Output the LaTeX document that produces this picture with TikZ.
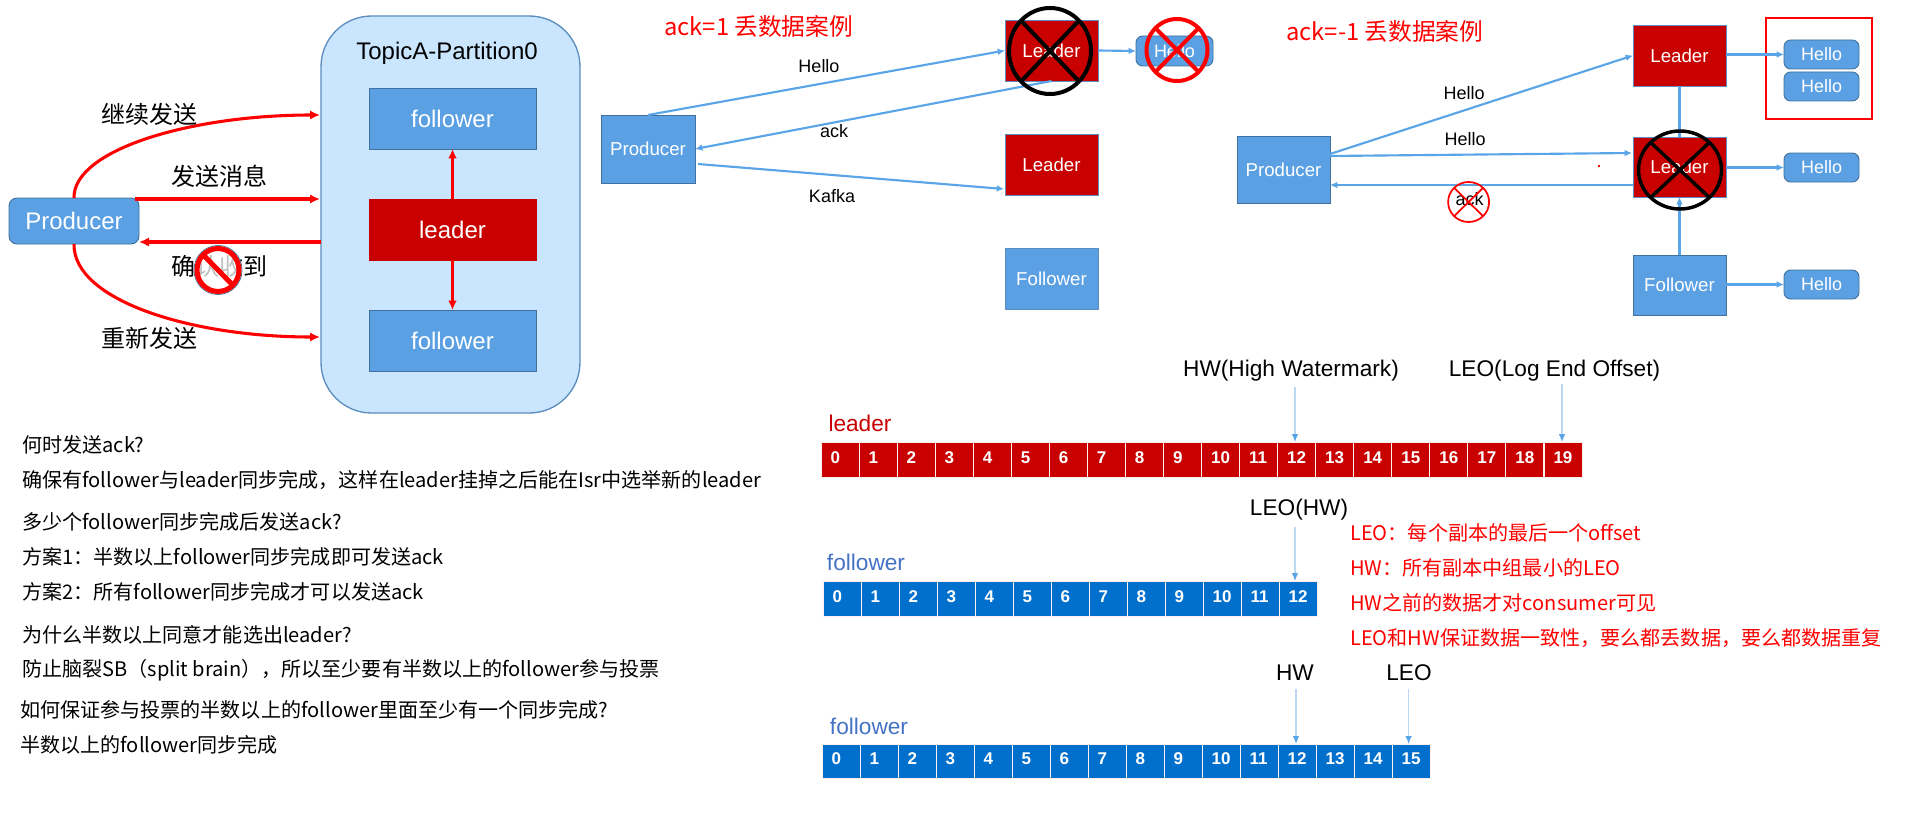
\documentclass[tikz,border=0pt]{standalone}
\usepackage{fontspec}
\setmainfont{Liberation Sans}
\newfontfamily\cjk{Noto Sans CJK SC}
\usetikzlibrary{arrows.meta,shapes.geometric}
\definecolor{nodeblue}{HTML}{5AA0E3}
\definecolor{edgeblue}{HTML}{41719C}
\definecolor{kred}{HTML}{C80000}
\definecolor{bigfill}{HTML}{C9E6FE}
\definecolor{bigedge}{HTML}{5B8DC0}
\definecolor{rowblue}{HTML}{0070CC}
\definecolor{lineblue}{HTML}{5AA5E8}
\definecolor{paleblue}{HTML}{BBD8F3}
\definecolor{labblue}{HTML}{4472C4}
\definecolor{pure}{HTML}{FF0000}
\tikzset{
  x=0.75pt,y=-0.75pt,
  sz/.style 2 args={minimum width=#1*0.75pt,minimum height=#2*0.75pt,inner sep=0pt,outer sep=0pt},
  bluebox/.style={draw=edgeblue,line width=0.7pt,fill=nodeblue,text=white,font=\fontsize{14pt}{16pt}\selectfont},
  redbox/.style={draw=bigedge,line width=0.7pt,fill=kred,text=white,font=\fontsize{14pt}{16pt}\selectfont},
  panelbox/.style={font=\fontsize{18pt}{21pt}\selectfont},
  hellobox/.style={bluebox,rounded corners=5pt,font=\fontsize{13.5pt}{16pt}\selectfont},
  bigarrow/.style={draw=pure,line width=2.3pt,-{Latex[length=7.5pt,width=7pt]}},
  thinred/.style={draw=pure,line width=1.6pt,-{Latex[length=7pt,width=6.5pt]}},
  bluearrow/.style={draw=lineblue,line width=1.6pt,-{Latex[length=5.5pt,width=5pt]}},
  pale/.style={draw=paleblue,line width=0.9pt,-{Latex[length=6pt,width=5pt,color=lineblue]}},
  blacktext/.style={text=black,inner sep=0pt,font=\fontsize{13.5pt}{16pt}\selectfont},
  cjklabel/.style={inner sep=0pt,font=\cjk\fontsize{18pt}{21pt}\selectfont},
  titletext/.style={text=pure,anchor=west,inner sep=0pt,font=\cjk\fontsize{17.8pt}{20pt}\selectfont},
  note/.style={text=black,anchor=west,inner sep=0pt,font=\cjk\fontsize{15.05pt}{18pt}\selectfont},
  rednote/.style={note,text=pure},
  bigtext/.style={inner sep=0pt,text=black,font=\fontsize{17pt}{20pt}\selectfont},
  rowname/.style={inner sep=0pt,font=\fontsize{17pt}{20pt}\selectfont},
  cellbox/.style={sz={38}{#1},draw=white!75!pink,line width=0.7pt,text=white,text height=9.2pt,text depth=3.7pt,
    font=\bfseries\fontsize{12.75pt}{15pt}\selectfont},
  crossring/.style={shape=ellipse,draw=#1,inner sep=0pt,outer sep=0pt},
}
\newcommand{\celltext}[1]{\makebox[1.112em][l]{#1}}
\begin{document}
\begin{tikzpicture}
\useasboundingbox (0,0) rectangle (1914,817);
\fill[white] (0,0) rectangle (1914,817);

% ---- left panel
\node[sz={259}{397},draw=bigedge,line width=1pt,fill=bigfill,rounded corners=38pt] (big) at (450.5,214.5) {};
\node[panelbox,text=black,inner sep=0pt] (topic) at (447,53) {TopicA-Partition0};
\node[bluebox,panelbox,sz={167}{61}] (ftop) at (452.5,118.5) {follower};
\node[redbox,panelbox,draw=kred,sz={167}{61}] (lead) at (452.5,229.5) {leader};
\node[bluebox,panelbox,sz={167}{61}] (fbot) at (452.5,340.5) {follower};
\node[bluebox,panelbox,sz={130}{46},rounded corners=6pt] (prod) at (74,221) {Producer};
\coordinate (g1) at (320,115);
\coordinate (g2s) at (135,199);
\coordinate (g2) at (320,199);
\coordinate (g3) at (321,242);
\coordinate (g4) at (320,337);
\draw[bigarrow] (prod.north) .. controls (73,150) and (190,115) .. (g1);
\draw[bigarrow] (g2s) -- (g2);
\draw[bigarrow] (g3) -- (prod.east |- g3);
\draw[bigarrow] (prod.south) .. controls (73,300) and (190,337) .. (g4);
\draw[thinred] (lead.north) -- (ftop.south);
\draw[thinred] (lead.south) -- (fbot.north);
\node[cjklabel] (t1) at (149,114) {继续发送};
\node[cjklabel] (t2) at (219,176) {发送消息};
\node[cjklabel] (t3) at (219,266) {确认收到};
\node[cjklabel] (t4) at (149,338) {重新发送};
\node[crossring=edgeblue,line width=0.6pt,sz={48}{49},fill=white,fill opacity=0.75,draw opacity=1] (nosign) at (218,270) {};
\node[crossring=pure,line width=3.8pt,sz={42}{43}] (noring) at (218,270) {};
\draw[pure,line width=3.8pt] (noring.north west) -- (noring.south east);

% ---- ack=1
\node[titletext] (title1) at (664,26) {ack=1 丢数据案例};
\node[bluebox,sz={94}{68}] (p1) at (648,149) {Producer};
\node[redbox,sz={93}{61}] (l1) at (1051.5,50.5) {Leader};
\node[redbox,sz={93}{61}] (l2) at (1051.5,164.5) {Leader};
\node[bluebox,draw=bigedge,sz={93}{61}] (f1) at (1051.5,278.5) {Follower};
\node[hellobox,sz={77}{30}] (h1) at (1174.5,51) {Hello};
\coordinate (k1) at (698,164);
\coordinate (k2) at (1004,189);
\draw[bluearrow] (p1.north) -- (l1.west);
\draw[bluearrow] (l1.south) -- (p1.east);
\draw[bluearrow] (k1) -- (k2);
\draw[bluearrow] (l1.east) -- (h1.west);
\node[blacktext] (b1) at (819,66) {Hello};
\node[blacktext] (b2) at (834,131) {ack};
\node[blacktext] (b3) at (832,196) {Kafka};
\node[crossring=black,line width=3pt,sz={82}{86}] (x1) at (1050,51) {};
\draw[black,line width=3pt] (x1.north west) -- (x1.south east);
\draw[black,line width=3pt] (x1.north east) -- (x1.south west);
\node[crossring=pure,line width=3pt,sz={61}{62}] (x2) at (1177,50) {};
\draw[pure,line width=3pt] (x2.north west) -- (x2.south east);
\draw[pure,line width=3pt] (x2.north east) -- (x2.south west);

% ---- ack=-1
\node[titletext] (title2) at (1286,31) {ack=-1 丢数据案例};
\node[bluebox,sz={93}{67}] (p2) at (1283.5,169.5) {Producer};
\node[redbox,sz={93}{61}] (m1) at (1679.5,55.5) {Leader};
\node[redbox,sz={93}{60}] (m2) at (1679.5,167) {Leader};
\node[bluebox,sz={93}{60}] (m3) at (1679.5,285) {Follower};
\node[hellobox,sz={75}{29}] (q1) at (1821.5,54.5) {Hello};
\node[hellobox,sz={75}{29}] (q2) at (1821.5,86.5) {Hello};
\node[hellobox,sz={75}{29}] (q3) at (1821.5,167.5) {Hello};
\node[hellobox,sz={75}{29}] (q4) at (1821.5,284.5) {Hello};
\node[draw=pure,line width=1.9pt,sz={106}{101}] (frame) at (1819,68.5) {};
\coordinate (a1) at (1330,154);
\coordinate (a2) at (1330,156);
\coordinate (a3) at (1632,153);
\coordinate (a4) at (1633,185);
\draw[bluearrow] (a1) -- (m1.west);
\draw[bluearrow] (a2) -- (a3);
\draw[bluearrow] (a4) -- (p2.east |- a4);
\draw[draw=lineblue,line width=1.6pt] (m1.south) -- (m2.north);
\draw[bluearrow] (m3.north) -- (m2.south);
\draw[bluearrow] (m1.east |- q1) -- (q1.west);
\draw[bluearrow] (m2.east |- q3) -- (q3.west);
\draw[bluearrow] (m3.east |- q4) -- (q4.west);
\node[blacktext] (b4) at (1464,93) {Hello};
\node[blacktext] (b5) at (1465,139) {Hello};
\node[blacktext] (b6) at (1469.5,199) {ack};
\node[crossring=pure,line width=1.3pt,sz={41}{40}] (x3) at (1468.6,202) {};
\draw[pure,line width=1.3pt] (x3.north west) -- (x3.south east);
\draw[pure,line width=1.3pt] (x3.north east) -- (x3.south west);
\node[crossring=black,line width=2.6pt,sz={83}{78}] (x4) at (1680,170) {};
\draw[black,line width=2.6pt] (x4.north west) -- (x4.south east);
\draw[black,line width=2.6pt] (x4.north east) -- (x4.south west);
\node[fill=pure,sz={2.5}{2}] (dot) at (1599,166) {};

% ---- offset rows
\foreach \i in {0,...,19}
  \node[cellbox=35,fill=kred] (ra\i) at ({821+19+38.05*\i},459.5) {\celltext{\i}};
\foreach \i in {0,...,12}
  \node[cellbox=35,fill=rowblue] (rb\i) at ({823+19+38*\i},598.5) {\celltext{\i}};
\foreach \i in {0,...,15}
  \node[cellbox=34,fill=rowblue] (rc\i) at ({822+19+38*\i},761) {\celltext{\i}};
\node[rowname,text=kred] (n1) at (860,423) {leader};
\node[rowname,text=labblue] (n2) at (866,562) {follower};
\node[rowname,text=labblue] (n3) at (869,726) {follower};
\node[bigtext] (hw1) at (1291,371) {HW(High Watermark)};
\node[bigtext] (leo1) at (1554.5,371) {LEO(Log End Offset)};
\node[bigtext] (leo2) at (1299,510) {LEO(HW)};
\node[bigtext] (hw3) at (1295,673) {HW};
\node[bigtext] (leo3) at (1409,673) {LEO};
\coordinate (c1) at (1295,387);
\coordinate (c2) at (1562,384);
\coordinate (c3) at (1295,527);
\coordinate (c4) at (1296,689);
\coordinate (c5) at (1408.6,689);
\draw[pale] (c1) -- (c1 |- ra12.north);
\draw[pale] (c2) -- (c2 |- ra19.north);
\draw[pale] (c3) -- (c3 |- rb12.north);
\draw[pale] (c4) -- (c4 |- rc12.north);
\draw[pale] (c5) -- (c5 |- rc15.north);

% ---- red notes
\node[rednote] (r1) at (1350,533) {LEO：每个副本的最后一个offset};
\node[rednote] (r2) at (1350,568) {HW：所有副本中组最小的LEO};
\node[rednote] (r3) at (1350,603) {HW之前的数据才对consumer可见};
\node[rednote] (r4) at (1350,638) {LEO和HW保证数据一致性，要么都丢数据，要么都数据重复};

% ---- left notes
\node[note] (s1) at (22,445) {何时发送ack?};
\node[note] (s2) at (22,480) {确保有follower与leader同步完成，这样在leader挂掉之后能在Isr中选举新的leader};
\node[note] (s3) at (22,522) {多少个follower同步完成后发送ack?};
\node[note] (s4) at (22,557) {方案1：半数以上follower同步完成即可发送ack};
\node[note] (s5) at (22,592) {方案2：所有follower同步完成才可以发送ack};
\node[note] (s6) at (22,635) {为什么半数以上同意才能选出leader?};
\node[note] (s7) at (22,670) {防止脑裂SB（split brain），所以至少要有半数以上的follower参与投票};
\node[note] (s8) at (20,710) {如何保证参与投票的半数以上的follower里面至少有一个同步完成?};
\node[note] (s9) at (20,745) {半数以上的follower同步完成};
\end{tikzpicture}
\end{document}
